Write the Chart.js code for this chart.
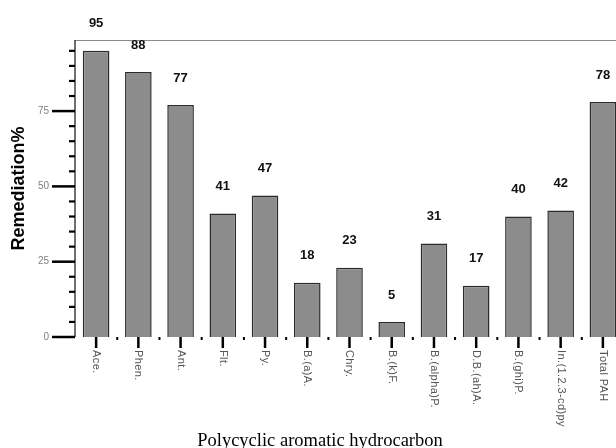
<!DOCTYPE html>
<html>
<head>
<meta charset="utf-8">
<script src="https://cdn.jsdelivr.net/npm/chart.js@4/dist/chart.umd.min.js"></script>
<style>
  html, body { margin: 0; padding: 0; background: #fff; overflow: hidden; }
  #wrap { width: 616px; height: 448px; overflow: hidden; position: relative; }
  #box { position: absolute; left: 0; top: 0; width: 640px; height: 448px; }
</style>
</head>
<body>
<div id="wrap"><div id="box"><canvas id="pahChart"></canvas></div></div>
<script>
// data
const compounds = ['Ace.', 'Phen.', 'Ant.', 'Flt.', 'Py.', 'B.(a)A.', 'Chry.', 'B.(k)F.', 'B.(alpha)P.', 'D.B.(ah)A.', 'B.(ghi)P.', 'In.(1.2.3-cd)py', 'Total PAH'];
const remediation = [95, 88, 77, 41, 47, 18, 23, 5, 31, 17, 40, 42, 78];
const majorTicks = [0, 25, 50, 75];
const minorTicks = [5, 10, 15, 20, 30, 35, 40, 45, 55, 60, 65, 70, 80, 85, 90, 95];

const sans = '"Liberation Sans", Arial, sans-serif';

// axes, tick marks, value labels and titles drawn on top of the bars
const extras = {
    id: 'extras',
    afterDatasetsDraw(chart) {
        const ctx = chart.ctx;
        const area = chart.chartArea;
        const x = chart.scales.x;
        const y = chart.scales.y;
        ctx.save();

        // top frame line
        ctx.strokeStyle = '#8a8a8a';
        ctx.lineWidth = 1.2;
        ctx.beginPath();
        ctx.moveTo(area.left, area.top + 0.5);
        ctx.lineTo(area.right, area.top + 0.5);
        ctx.stroke();

        // left axis line
        ctx.strokeStyle = '#222';
        ctx.lineWidth = 1.3;
        ctx.beginPath();
        ctx.moveTo(area.left, area.top);
        ctx.lineTo(area.left, area.bottom);
        ctx.stroke();

        // y ticks
        ctx.strokeStyle = '#000';
        ctx.lineWidth = 2.5;
        majorTicks.forEach(v => {
            const py = y.getPixelForValue(v);
            ctx.beginPath();
            ctx.moveTo(area.left - 23, py);
            ctx.lineTo(area.left, py);
            ctx.stroke();
        });
        ctx.lineWidth = 2.2;
        minorTicks.forEach(v => {
            const py = y.getPixelForValue(v);
            ctx.beginPath();
            ctx.moveTo(area.left - 6, py);
            ctx.lineTo(area.left, py);
            ctx.stroke();
        });

        // x ticks and labels
        compounds.forEach((label, i) => {
            const px = x.getPixelForValue(i);
            ctx.strokeStyle = '#000';
            ctx.lineWidth = 2.5;
            ctx.beginPath();
            ctx.moveTo(px, area.bottom);
            ctx.lineTo(px, area.bottom + 11);
            ctx.stroke();
            if (i < compounds.length - 1) {
                const mx = (px + x.getPixelForValue(i + 1)) / 2;
                ctx.lineWidth = 2;
                ctx.beginPath();
                ctx.moveTo(mx, area.bottom);
                ctx.lineTo(mx, area.bottom + 3);
                ctx.stroke();
            }
            ctx.save();
            ctx.translate(px, area.bottom + 13);
            ctx.rotate(Math.PI / 2);
            ctx.font = '11px ' + sans;
            ctx.letterSpacing = '0.4px';
            ctx.fillStyle = '#555';
            ctx.textAlign = 'left';
            ctx.textBaseline = 'middle';
            ctx.fillText(label, 0, 0);
            ctx.restore();
        });

        // value labels above bars
        const meta = chart.getDatasetMeta(0);
        ctx.font = 'bold 13px ' + sans;
        ctx.fillStyle = '#111';
        ctx.textAlign = 'center';
        ctx.textBaseline = 'middle';
        meta.data.forEach((bar, i) => {
            ctx.fillText(String(remediation[i]), bar.x, bar.y - 27);
        });

        // y title
        ctx.save();
        ctx.translate(19, (area.top + area.bottom) / 2);
        ctx.rotate(-Math.PI / 2);
        ctx.font = 'bold 18px ' + sans;
        ctx.fillStyle = '#000';
        ctx.textAlign = 'center';
        ctx.textBaseline = 'middle';
        ctx.fillText('Remediation%', 0, 0);
        ctx.restore();

        // x title
        ctx.font = '18.5px "Liberation Serif", "Times New Roman", serif';
        ctx.fillStyle = '#000';
        ctx.textAlign = 'center';
        ctx.textBaseline = 'alphabetic';
        ctx.fillText('Polycyclic aromatic hydrocarbon', 320, 446);

        ctx.restore();
    }
};

const ctx = document.getElementById('pahChart').getContext('2d');
const pahChart = new Chart(ctx, {
    type: 'bar',
    data: {
        labels: compounds,
        datasets: [{
            label: 'Remediation%',
            data: remediation,
            backgroundColor: '#8c8c8c',
            borderColor: '#2b2b2b',
            borderWidth: 1.5,
            barPercentage: 0.63,
            categoryPercentage: 1
        }]
    },
    options: {
        responsive: true,
        maintainAspectRatio: false,
        animation: false,
        layout: { padding: { top: 40, right: 16, left: 0, bottom: 0 } },
        plugins: {
            legend: { display: false },
            tooltip: { enabled: false }
        },
        scales: {
            x: {
                grid: { display: false },
                border: { display: false },
                ticks: { display: false },
                afterFit: function(scale) { scale.height = 111; }
            },
            y: {
                min: 0,
                max: 98.6,
                grid: { display: false, drawTicks: false },
                border: { display: false },
                afterBuildTicks: function(scale) {
                    scale.ticks = majorTicks.map(v => ({ value: v }));
                },
                ticks: {
                    padding: 26,
                    color: '#808080',
                    font: { family: sans, size: 10 }
                },
                afterFit: function(scale) { scale.width = 75; }
            }
        }
    },
    plugins: [extras]
});
</script>
</body>
</html>
